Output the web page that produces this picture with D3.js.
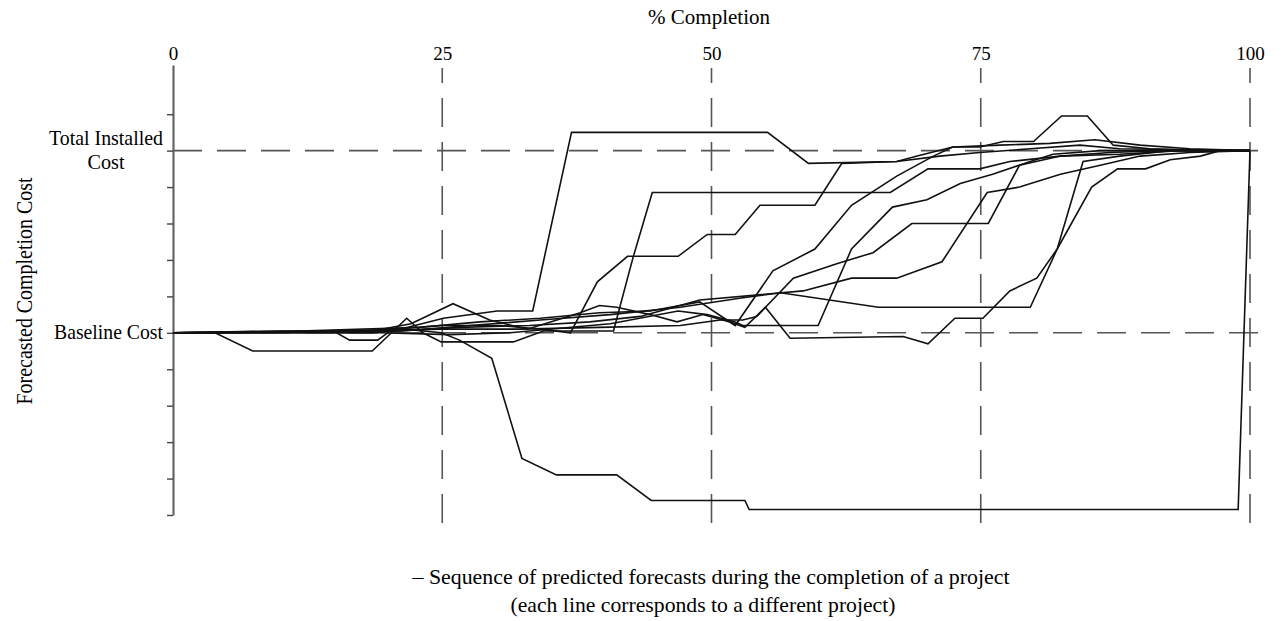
<!DOCTYPE html>
<html>
<head>
<meta charset="utf-8">
<script src="https://cdn.jsdelivr.net/npm/d3@7"></script>
<style>
  body { margin: 0; background: #fff; }
  svg { display: block; font-family: "Liberation Serif", "Times New Roman", serif; }
</style>
</head>
<body>
<svg id="chart" width="1283" height="621"></svg>
<script>
// x = % completion, y = forecasted cost (0 = baseline cost, 1 = total installed cost)
const pctTicks = [0, 25, 50, 75, 100];
const costTicks = [-1, -0.8, -0.6, -0.4, -0.2, 0, 0.2, 0.4, 0.6, 0.8, 1, 1.2];
const refValues = [0, 1];
const refLabels = [["Baseline Cost"], ["Total Installed", "Cost"]];

const projA = [[0,0],[11.8,0],[18.5,0],[21.5,0.02],[24.9,0],[26.6,-0.04],[29.6,-0.14],[32.4,-0.69],[35.6,-0.78],[41.2,-0.78],[44.4,-0.92],[53.1,-0.92],[53.5,-0.97],[98.9,-0.97],[100,1.0]];
const projB = [[0,0],[9.9,0.01],[15.5,0.01],[21.1,0.02],[25.1,0.08],[30.1,0.12],[33.4,0.12],[37.0,1.10],[55.2,1.10],[59.0,0.93],[67.2,0.94],[69.1,0.97],[72.4,1.02],[74.9,1.02],[77.1,1.05],[79.9,1.05],[82.5,1.19],[84.9,1.19],[87.3,1.03],[90.7,1.01],[95.4,1.0],[100,1.0]];
const projC = [[0,0],[3.9,0],[7.4,-0.10],[18.5,-0.10],[21.7,0.08],[23.2,0],[24.9,-0.05],[28.2,-0.05],[31.6,-0.05],[34.4,0.01],[40.9,0.01],[42.7,0.41],[44.5,0.77],[66.6,0.77],[70.1,0.90],[74.9,0.90],[77.7,0.94],[82.4,0.97],[87.9,0.98],[93.5,1.0],[100,1.0]];
const projD = [[0,0],[8.1,0],[14.9,0.01],[16.4,-0.04],[19.0,-0.04],[20.4,0.02],[24.9,0.04],[30.4,0.04],[34.1,0.02],[36.9,0],[39.4,0.28],[42.2,0.42],[46.9,0.42],[49.6,0.54],[52.2,0.54],[54.5,0.70],[59.6,0.70],[62.1,0.93],[67.2,0.94],[71.2,0.97],[74.9,0.99],[79.6,1.01],[84.2,1.03],[87.9,1.01],[100,1.0]];
const projE = [[0,0],[11.8,0.01],[22.9,0.03],[28.5,0.06],[34.1,0.08],[39.6,0.11],[44.3,0.12],[48.9,0.17],[52.2,0.04],[55.7,0.34],[59.6,0.46],[63.0,0.70],[67.2,0.86],[70.6,0.97],[72.4,1.02],[76.8,1.03],[81.4,1.04],[85.6,1.06],[89.8,1.03],[94.4,1.01],[100,1.0]];
const projF = [[0,0],[16.4,0.01],[24.9,0.02],[32.2,0.02],[39.6,0.03],[47.1,0.04],[50.8,0.07],[52.9,0.07],[54.2,0.09],[57.6,0.30],[61.7,0.38],[65.0,0.44],[68.6,0.60],[75.7,0.60],[78.6,0.92],[82.4,0.97],[87.0,0.99],[91.6,1.0],[100,1.0]];
const projG = [[0,0],[19.2,0],[25.7,-0.01],[31.3,0],[40.6,0.05],[46.9,0.12],[49.6,0.10],[52.2,0.06],[52.9,0.04],[59.9,0.04],[63.0,0.46],[66.8,0.69],[70.0,0.73],[73.1,0.82],[76.1,0.87],[79.6,0.94],[81.7,0.98],[86.1,1.0],[90.7,1.0],[100,1.0]];
const projH = [[0,0],[21.1,0.01],[27.6,0.04],[34.1,0.07],[40.6,0.10],[47.1,0.14],[52.6,0.19],[56.4,0.22],[65.5,0.14],[79.6,0.14],[82.1,0.46],[84.5,0.94],[87.9,0.97],[92.6,1.0],[100,1.0]];
const projI = [[0,0],[18.5,0.01],[22.1,0.05],[26.0,0.16],[29.4,0.07],[32.9,0.02],[37.8,0.11],[39.6,0.15],[41.2,0.14],[44.3,0.10],[46.8,0.06],[49.2,0.10],[51.7,0.06],[53.1,0.03],[55.0,0.14],[57.3,-0.03],[67.8,-0.02],[70.1,-0.06],[72.6,0.08],[75.2,0.08],[77.7,0.23],[80.2,0.30],[82.1,0.46],[85.3,0.80],[87.7,0.90],[90.3,0.90],[92.6,0.95],[95.4,0.97],[97.2,1.0],[100,1.0]];
const projJ = [[0,0],[21.1,0.01],[26.6,0.03],[33.1,0.04],[38.7,0.06],[43.4,0.09],[48.9,0.18],[58.5,0.23],[63.0,0.30],[67.2,0.30],[71.4,0.39],[75.6,0.77],[78.6,0.80],[82.4,0.87],[86.1,0.92],[89.8,0.97],[94.4,0.99],[100,1.0]];
const projects = [projA, projB, projC, projD, projE, projF, projG, projH, projI, projJ];

const svg = d3.select("#chart");

const x = d3.scaleLinear().domain([0, 100]).range([173, 1250]);
const y = d3.scaleLinear().domain([-1, 1.47]).range([515, 65]);

// squeeze serif text a bit, the original uses a narrow Times
function narrowText(sel, len) {
    sel.attr("textLength", len).attr("lengthAdjust", "spacingAndGlyphs");
}

// title on top
svg.append("text")
    .attr("x", 709).attr("y", 24)
    .attr("text-anchor", "middle")
    .attr("font-size", 22)
    .call(narrowText, 122)
    .text("% Completion");

// x labels along the top
svg.append("g")
    .attr("transform", "translate(0,63)")
    .call(d3.axisTop(x).tickValues(pctTicks).tickSize(0).tickFormat(d3.format("d")))
    .call(g => g.select(".domain").remove())
    .call(g => g.selectAll("text")
        .attr("font-family", "Liberation Serif, serif")
        .attr("font-size", 19)
        .attr("fill", "#000"));

// dashed guides
const dash = "29,15";
svg.append("g").selectAll("line")
    .data(pctTicks.slice(1))
    .join("line")
    .attr("x1", d => x(d)).attr("x2", d => x(d))
    .attr("y1", 68).attr("y2", 524)
    .attr("stroke", "#555")
    .attr("stroke-width", 1.6)
    .attr("stroke-dasharray", dash)
    .attr("stroke-dashoffset", 14);

svg.append("g").selectAll("line")
    .data(refValues)
    .join("line")
    .attr("x1", x(0)).attr("x2", x(101))
    .attr("y1", d => y(d)).attr("y2", d => y(d))
    .attr("stroke", "#555")
    .attr("stroke-width", 1.6)
    .attr("stroke-dasharray", dash);

// y axis
svg.append("g")
    .attr("transform", `translate(${x(0)},0)`)
    .call(d3.axisLeft(y).tickValues(costTicks).tickSize(6).tickSizeOuter(0).tickFormat(""))
    .call(g => g.select(".domain").attr("stroke", "#666").attr("stroke-width", 2.2))
    .call(g => g.selectAll(".tick line").attr("stroke", "#444").attr("stroke-width", 1.4));

// reference labels
const labelLens = [[109], [114, 37]];
refValues.forEach((v, i) => {
    const lines = refLabels[i];
    lines.forEach((s, k) => {
        svg.append("text")
            .attr("font-size", 21)
            .attr("text-anchor", lines.length > 1 ? "middle" : "end")
            .attr("x", lines.length > 1 ? 106 : 163)
            .attr("y", lines.length > 1 ? y(v) - 6 + k * 24 : y(v) + 6)
            .call(narrowText, labelLens[i][k])
            .text(s);
    });
});

// y title
svg.append("text")
    .attr("transform", "translate(32,291) rotate(-90)")
    .attr("text-anchor", "middle")
    .attr("font-size", 24)
    .call(narrowText, 227)
    .text("Forecasted Completion Cost");

// project lines
const line = d3.line().x(d => x(d[0])).y(d => y(d[1]));
svg.append("g").selectAll("path")
    .data(projects)
    .join("path")
    .attr("d", line)
    .attr("fill", "none")
    .attr("stroke", "#111")
    .attr("stroke-width", 1.6)
    .attr("stroke-linejoin", "miter");

// caption
svg.append("text")
    .attr("x", 711).attr("y", 584)
    .attr("text-anchor", "middle")
    .attr("font-size", 22)
    .call(narrowText, 597)
    .text("\u2013 Sequence of predicted forecasts during the completion of a project");
svg.append("text")
    .attr("x", 703).attr("y", 612)
    .attr("text-anchor", "middle")
    .attr("font-size", 22)
    .call(narrowText, 385)
    .text("(each line corresponds to a different project)");
</script>
</body>
</html>
